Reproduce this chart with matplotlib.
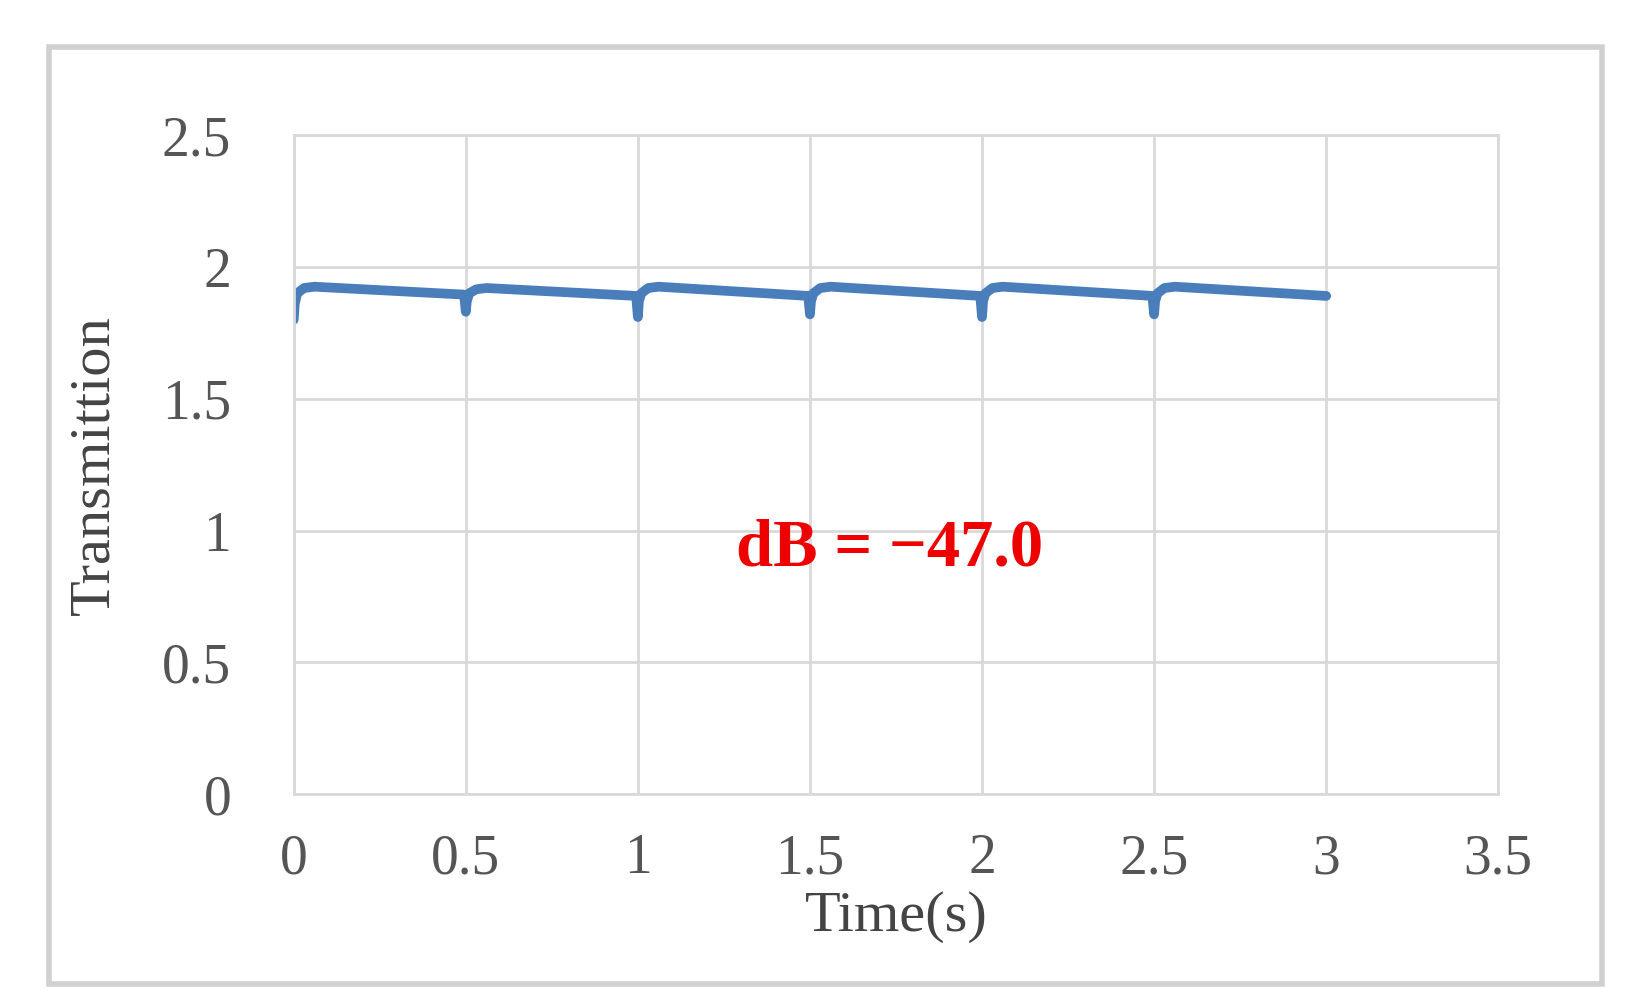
import matplotlib
matplotlib.use("Agg")
import matplotlib.pyplot as plt
from matplotlib.patches import Rectangle

time_s = [0.0, 0.003, 0.01, 0.03, 0.06, 0.495,
          0.50, 0.503, 0.51, 0.53, 0.56, 0.995,
          1.00, 1.003, 1.01, 1.03, 1.06, 1.495,
          1.50, 1.503, 1.51, 1.53, 1.56, 1.995,
          2.00, 2.003, 2.01, 2.03, 2.06, 2.495,
          2.50, 2.503, 2.51, 2.53, 2.56, 3.0]
transmission = [1.80, 1.86, 1.90, 1.92, 1.925, 1.895,
                1.83, 1.87, 1.90, 1.915, 1.92, 1.89,
                1.81, 1.87, 1.90, 1.92, 1.925, 1.89,
                1.82, 1.87, 1.90, 1.92, 1.925, 1.89,
                1.81, 1.87, 1.90, 1.92, 1.925, 1.89,
                1.82, 1.87, 1.90, 1.92, 1.925, 1.89]
xticks = [0, 0.5, 1, 1.5, 2, 2.5, 3, 3.5]
xticklabels = ["0", "0.5", "1", "1.5", "2", "2.5", "3", "3.5"]
yticks = [0, 0.5, 1, 1.5, 2, 2.5]
yticklabels = ["0", "0.5", "1", "1.5", "2", "2.5"]

plt.rcParams['font.family'] = ['Liberation Serif', 'DejaVu Serif']
fig = plt.figure(figsize=(16.41, 10.08), dpi=100)
fig.patches.append(Rectangle((0.030, 0.024), 0.946, 0.929, transform=fig.transFigure,
                             fill=False, edgecolor='#d0d0d0', linewidth=4))
ax = fig.add_axes([0.179, 0.212, 0.734, 0.654])
ax.plot(time_s, transmission, color='#4a7ebb', linewidth=7, solid_capstyle='round')
ax.set_xlim(0, 3.5)
ax.set_ylim(0, 2.5)
ax.set_xticks(xticks)
ax.set_xticklabels(xticklabels)
ax.set_yticks(yticks)
ax.set_yticklabels(yticklabels)
ax.grid(True, color='#d9d9d9', linewidth=2)
for s in ax.spines.values():
    s.set_color('#d9d9d9'); s.set_linewidth(2)
ax.tick_params(axis='x', length=0, labelsize=40, colors='#555555', pad=28)
ax.tick_params(axis='y', length=0, labelsize=40, colors='#555555', pad=45)
ax.set_xlabel("Time(s)", fontsize=42, color='#444444', labelpad=4)
ax.set_ylabel("Transmittion", fontsize=42, color='#444444', labelpad=30)
ax.text(1.73, 0.93, "dB = \u221247.0", color='#ee0000', fontsize=48, fontweight='bold',
        ha='center', va='center')
fig.savefig("out.png", dpi=100)
